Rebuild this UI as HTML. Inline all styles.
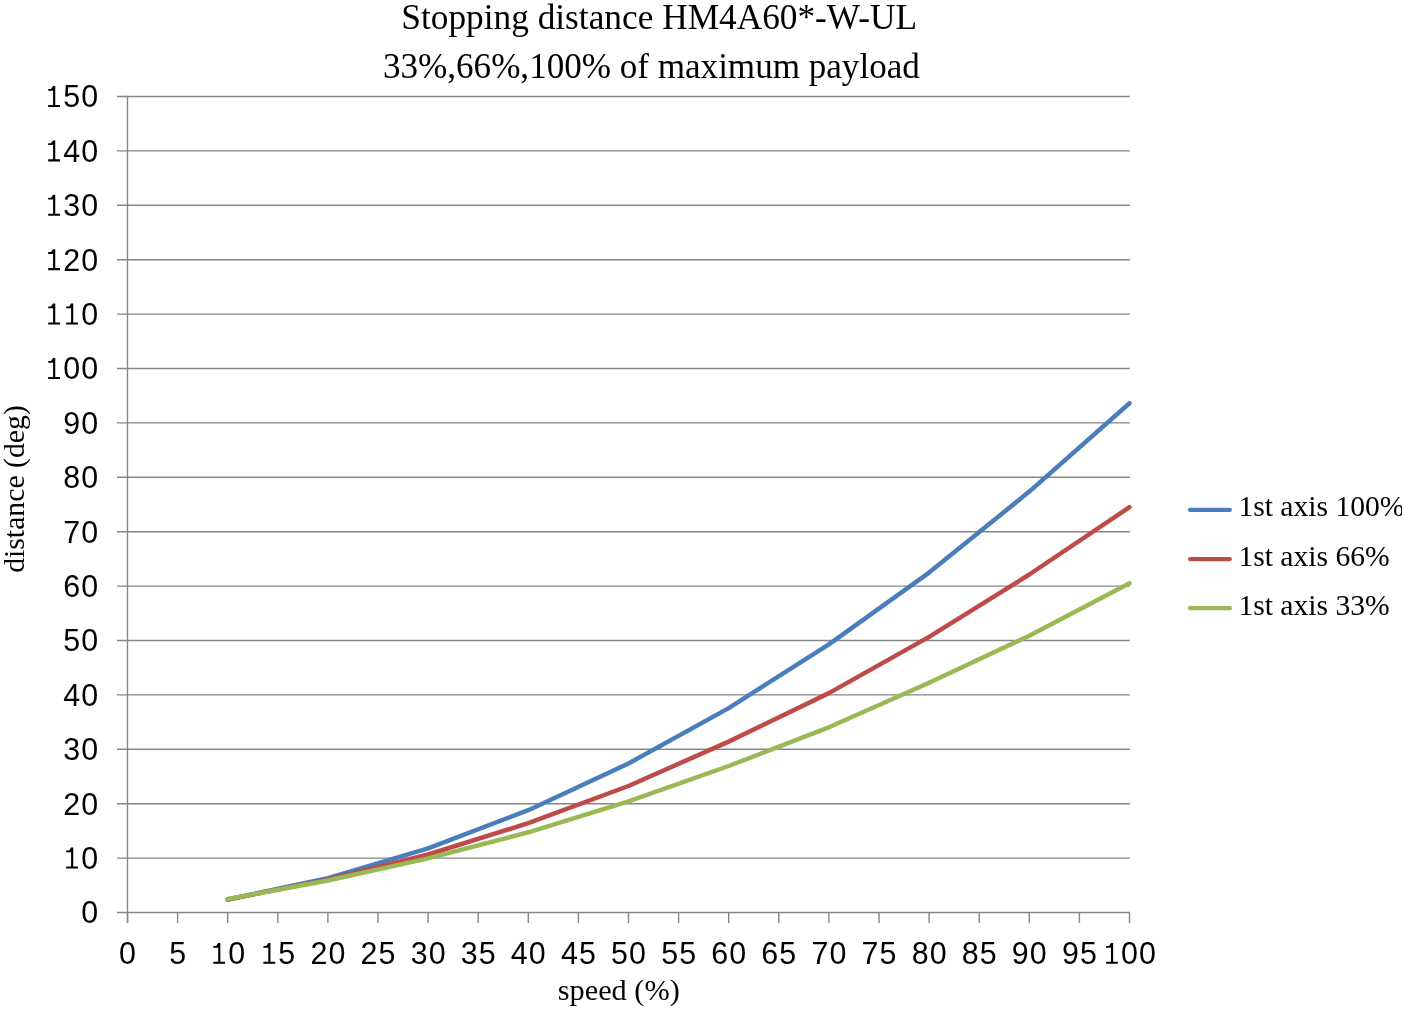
<!DOCTYPE html>
<html><head><meta charset="utf-8"><style>
html,body{margin:0;padding:0;background:#fff;width:1402px;height:1009px;overflow:hidden}
svg{position:absolute;left:0;top:0;display:block;will-change:transform}
.t{font-family:"Liberation Serif",serif;fill:#000}
.v{font-family:"Liberation Sans",sans-serif;fill:#000}
</style></head><body>
<svg width="1402" height="1009" viewBox="0 0 1402 1009">
<g stroke="#868686" stroke-width="1.4" fill="none">
<line x1="117" y1="912.50" x2="1129.9" y2="912.50"/>
<line x1="117" y1="858.10" x2="1129.9" y2="858.10"/>
<line x1="117" y1="803.70" x2="1129.9" y2="803.70"/>
<line x1="117" y1="749.30" x2="1129.9" y2="749.30"/>
<line x1="117" y1="694.90" x2="1129.9" y2="694.90"/>
<line x1="117" y1="640.50" x2="1129.9" y2="640.50"/>
<line x1="117" y1="586.10" x2="1129.9" y2="586.10"/>
<line x1="117" y1="531.70" x2="1129.9" y2="531.70"/>
<line x1="117" y1="477.30" x2="1129.9" y2="477.30"/>
<line x1="117" y1="422.90" x2="1129.9" y2="422.90"/>
<line x1="117" y1="368.50" x2="1129.9" y2="368.50"/>
<line x1="117" y1="314.10" x2="1129.9" y2="314.10"/>
<line x1="117" y1="259.70" x2="1129.9" y2="259.70"/>
<line x1="117" y1="205.30" x2="1129.9" y2="205.30"/>
<line x1="117" y1="150.90" x2="1129.9" y2="150.90"/>
<line x1="117" y1="96.50" x2="1129.9" y2="96.50"/>
<line x1="127.5" y1="95.80" x2="127.5" y2="923.00"/>
<line x1="127.50" y1="912.50" x2="127.50" y2="923.00"/>
<line x1="177.60" y1="912.50" x2="177.60" y2="923.00"/>
<line x1="227.70" y1="912.50" x2="227.70" y2="923.00"/>
<line x1="277.80" y1="912.50" x2="277.80" y2="923.00"/>
<line x1="327.90" y1="912.50" x2="327.90" y2="923.00"/>
<line x1="378.00" y1="912.50" x2="378.00" y2="923.00"/>
<line x1="428.10" y1="912.50" x2="428.10" y2="923.00"/>
<line x1="478.20" y1="912.50" x2="478.20" y2="923.00"/>
<line x1="528.30" y1="912.50" x2="528.30" y2="923.00"/>
<line x1="578.40" y1="912.50" x2="578.40" y2="923.00"/>
<line x1="628.50" y1="912.50" x2="628.50" y2="923.00"/>
<line x1="678.60" y1="912.50" x2="678.60" y2="923.00"/>
<line x1="728.70" y1="912.50" x2="728.70" y2="923.00"/>
<line x1="778.80" y1="912.50" x2="778.80" y2="923.00"/>
<line x1="828.90" y1="912.50" x2="828.90" y2="923.00"/>
<line x1="879.00" y1="912.50" x2="879.00" y2="923.00"/>
<line x1="929.10" y1="912.50" x2="929.10" y2="923.00"/>
<line x1="979.20" y1="912.50" x2="979.20" y2="923.00"/>
<line x1="1029.30" y1="912.50" x2="1029.30" y2="923.00"/>
<line x1="1079.40" y1="912.50" x2="1079.40" y2="923.00"/>
<line x1="1129.50" y1="912.50" x2="1129.50" y2="923.00"/>
</g>
<g class="v" font-size="32.0" text-anchor="middle">
<text transform="translate(89.60,923.40) scale(0.95,1)">0</text>
<path d="M66.20,850.50 L69.00,850.50 L71.10,847.60 L73.25,847.60 L73.25,866.50 L78.00,866.50 L78.00,868.60 L66.20,868.60 L66.20,866.50 L71.10,866.50 L71.10,852.30 L66.20,852.30Z"/>
<text transform="translate(89.60,869.00) scale(0.95,1)">0</text>
<text transform="translate(71.60,814.60) scale(0.95,1)">2</text>
<text transform="translate(89.60,814.60) scale(0.95,1)">0</text>
<text transform="translate(71.60,760.20) scale(0.95,1)">3</text>
<text transform="translate(89.60,760.20) scale(0.95,1)">0</text>
<text transform="translate(71.60,705.80) scale(0.95,1)">4</text>
<text transform="translate(89.60,705.80) scale(0.95,1)">0</text>
<text transform="translate(71.60,651.40) scale(0.95,1)">5</text>
<text transform="translate(89.60,651.40) scale(0.95,1)">0</text>
<text transform="translate(71.60,597.00) scale(0.95,1)">6</text>
<text transform="translate(89.60,597.00) scale(0.95,1)">0</text>
<text transform="translate(71.60,542.60) scale(0.95,1)">7</text>
<text transform="translate(89.60,542.60) scale(0.95,1)">0</text>
<text transform="translate(71.60,488.20) scale(0.95,1)">8</text>
<text transform="translate(89.60,488.20) scale(0.95,1)">0</text>
<text transform="translate(71.60,433.80) scale(0.95,1)">9</text>
<text transform="translate(89.60,433.80) scale(0.95,1)">0</text>
<path d="M48.20,360.90 L51.00,360.90 L53.10,358.00 L55.25,358.00 L55.25,376.90 L60.00,376.90 L60.00,379.00 L48.20,379.00 L48.20,376.90 L53.10,376.90 L53.10,362.70 L48.20,362.70Z"/>
<text transform="translate(71.60,379.40) scale(0.95,1)">0</text>
<text transform="translate(89.60,379.40) scale(0.95,1)">0</text>
<path d="M48.20,306.50 L51.00,306.50 L53.10,303.60 L55.25,303.60 L55.25,322.50 L60.00,322.50 L60.00,324.60 L48.20,324.60 L48.20,322.50 L53.10,322.50 L53.10,308.30 L48.20,308.30Z"/>
<path d="M66.20,306.50 L69.00,306.50 L71.10,303.60 L73.25,303.60 L73.25,322.50 L78.00,322.50 L78.00,324.60 L66.20,324.60 L66.20,322.50 L71.10,322.50 L71.10,308.30 L66.20,308.30Z"/>
<text transform="translate(89.60,325.00) scale(0.95,1)">0</text>
<path d="M48.20,252.10 L51.00,252.10 L53.10,249.20 L55.25,249.20 L55.25,268.10 L60.00,268.10 L60.00,270.20 L48.20,270.20 L48.20,268.10 L53.10,268.10 L53.10,253.90 L48.20,253.90Z"/>
<text transform="translate(71.60,270.60) scale(0.95,1)">2</text>
<text transform="translate(89.60,270.60) scale(0.95,1)">0</text>
<path d="M48.20,197.70 L51.00,197.70 L53.10,194.80 L55.25,194.80 L55.25,213.70 L60.00,213.70 L60.00,215.80 L48.20,215.80 L48.20,213.70 L53.10,213.70 L53.10,199.50 L48.20,199.50Z"/>
<text transform="translate(71.60,216.20) scale(0.95,1)">3</text>
<text transform="translate(89.60,216.20) scale(0.95,1)">0</text>
<path d="M48.20,143.30 L51.00,143.30 L53.10,140.40 L55.25,140.40 L55.25,159.30 L60.00,159.30 L60.00,161.40 L48.20,161.40 L48.20,159.30 L53.10,159.30 L53.10,145.10 L48.20,145.10Z"/>
<text transform="translate(71.60,161.80) scale(0.95,1)">4</text>
<text transform="translate(89.60,161.80) scale(0.95,1)">0</text>
<path d="M48.20,88.90 L51.00,88.90 L53.10,86.00 L55.25,86.00 L55.25,104.90 L60.00,104.90 L60.00,107.00 L48.20,107.00 L48.20,104.90 L53.10,104.90 L53.10,90.70 L48.20,90.70Z"/>
<text transform="translate(71.60,107.40) scale(0.95,1)">5</text>
<text transform="translate(89.60,107.40) scale(0.95,1)">0</text>
<text transform="translate(127.50,963.90) scale(0.95,1)">0</text>
<text transform="translate(177.60,963.90) scale(0.95,1)">5</text>
<path d="M213.30,946.00 L216.10,946.00 L218.20,943.10 L220.35,943.10 L220.35,961.70 L225.10,961.70 L225.10,963.80 L213.30,963.80 L213.30,961.70 L218.20,961.70 L218.20,947.80 L213.30,947.80Z"/>
<text transform="translate(236.70,963.90) scale(0.95,1)">0</text>
<path d="M263.40,946.00 L266.20,946.00 L268.30,943.10 L270.45,943.10 L270.45,961.70 L275.20,961.70 L275.20,963.80 L263.40,963.80 L263.40,961.70 L268.30,961.70 L268.30,947.80 L263.40,947.80Z"/>
<text transform="translate(286.80,963.90) scale(0.95,1)">5</text>
<text transform="translate(318.90,963.90) scale(0.95,1)">2</text>
<text transform="translate(336.90,963.90) scale(0.95,1)">0</text>
<text transform="translate(369.00,963.90) scale(0.95,1)">2</text>
<text transform="translate(387.00,963.90) scale(0.95,1)">5</text>
<text transform="translate(419.10,963.90) scale(0.95,1)">3</text>
<text transform="translate(437.10,963.90) scale(0.95,1)">0</text>
<text transform="translate(469.20,963.90) scale(0.95,1)">3</text>
<text transform="translate(487.20,963.90) scale(0.95,1)">5</text>
<text transform="translate(519.30,963.90) scale(0.95,1)">4</text>
<text transform="translate(537.30,963.90) scale(0.95,1)">0</text>
<text transform="translate(569.40,963.90) scale(0.95,1)">4</text>
<text transform="translate(587.40,963.90) scale(0.95,1)">5</text>
<text transform="translate(619.50,963.90) scale(0.95,1)">5</text>
<text transform="translate(637.50,963.90) scale(0.95,1)">0</text>
<text transform="translate(669.60,963.90) scale(0.95,1)">5</text>
<text transform="translate(687.60,963.90) scale(0.95,1)">5</text>
<text transform="translate(719.70,963.90) scale(0.95,1)">6</text>
<text transform="translate(737.70,963.90) scale(0.95,1)">0</text>
<text transform="translate(769.80,963.90) scale(0.95,1)">6</text>
<text transform="translate(787.80,963.90) scale(0.95,1)">5</text>
<text transform="translate(819.90,963.90) scale(0.95,1)">7</text>
<text transform="translate(837.90,963.90) scale(0.95,1)">0</text>
<text transform="translate(870.00,963.90) scale(0.95,1)">7</text>
<text transform="translate(888.00,963.90) scale(0.95,1)">5</text>
<text transform="translate(920.10,963.90) scale(0.95,1)">8</text>
<text transform="translate(938.10,963.90) scale(0.95,1)">0</text>
<text transform="translate(970.20,963.90) scale(0.95,1)">8</text>
<text transform="translate(988.20,963.90) scale(0.95,1)">5</text>
<text transform="translate(1020.30,963.90) scale(0.95,1)">9</text>
<text transform="translate(1038.30,963.90) scale(0.95,1)">0</text>
<text transform="translate(1070.40,963.90) scale(0.95,1)">9</text>
<text transform="translate(1088.40,963.90) scale(0.95,1)">5</text>
<path d="M1106.10,946.00 L1108.90,946.00 L1111.00,943.10 L1113.15,943.10 L1113.15,961.70 L1117.90,961.70 L1117.90,963.80 L1106.10,963.80 L1106.10,961.70 L1111.00,961.70 L1111.00,947.80 L1106.10,947.80Z"/>
<text transform="translate(1129.50,963.90) scale(0.95,1)">0</text>
<text transform="translate(1147.50,963.90) scale(0.95,1)">0</text>
</g>
<g fill="none" stroke-width="4.5" stroke-linecap="round" stroke-linejoin="round">
<polyline stroke="#4A7EBB" points="227.70,899.50 327.90,878.20 428.10,848.40 528.30,810.20 628.50,763.50 728.70,708.10 828.90,644.40 929.10,572.60 1029.30,491.60 1129.50,403.20"/>
<polyline stroke="#BE4B48" points="227.70,899.50 327.90,879.60 428.10,854.50 528.30,823.20 628.50,786.00 728.70,741.60 828.90,693.10 929.10,636.90 1029.30,574.50 1129.50,507.20"/>
<polyline stroke="#98B954" points="227.70,899.00 327.90,880.50 428.10,858.40 528.30,832.30 628.50,801.30 728.70,766.00 828.90,727.30 929.10,682.80 1029.30,635.80 1129.50,583.30"/>
</g>
<g class="t" text-anchor="middle" font-size="35.3">
<text x="659.2" y="29">Stopping distance HM4A60*-W-UL</text>
<text x="651.4" y="78.2" font-size="35.1">33%,66%,100% of maximum payload</text>
</g>
<text class="t" font-size="29.75" text-anchor="middle" transform="translate(24.3,489) rotate(-90)">distance (deg)</text>
<text class="t" font-size="30.3" text-anchor="middle" x="618.75" y="1000.3">speed (%)</text>
<g fill="none" stroke-width="4.2" stroke-linecap="round">
<line x1="1190" y1="509.9" x2="1229.8" y2="509.9" stroke="#4A7EBB"/>
<line x1="1190" y1="559.1" x2="1229.8" y2="559.1" stroke="#BE4B48"/>
<line x1="1190" y1="608.2" x2="1229.8" y2="608.2" stroke="#98B954"/>
</g>
<g class="t" font-size="29.6">
<text x="1238.4" y="515.9">1st axis 100%</text>
<text x="1238.4" y="565.8">1st axis 66%</text>
<text x="1238.4" y="614.8">1st axis 33%</text>
</g>
</svg>
</body></html>
